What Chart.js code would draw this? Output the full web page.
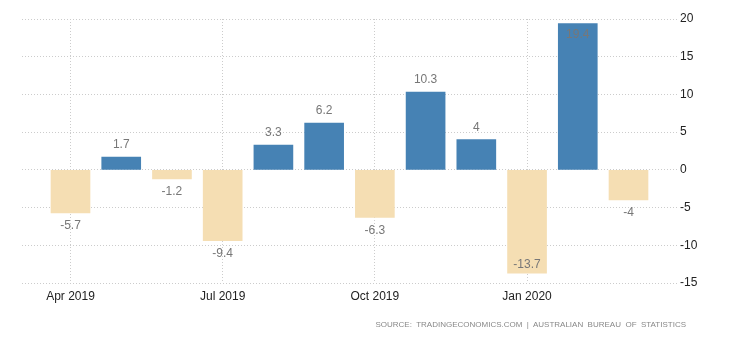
<!DOCTYPE html>
<html>
<head>
<meta charset="utf-8">
<script src="https://cdn.jsdelivr.net/npm/chart.js@4"></script>
<style>
body{margin:0;background:#fff;}
#wrap{position:relative;width:730px;height:340px;}
#source{position:absolute;right:44px;top:320px;font:8px 'Liberation Sans',sans-serif;color:#888;white-space:pre;}
</style>
</head>
<body>
<div id="wrap">
<canvas id="myChart" width="730" height="340"></canvas>
<div id="source">SOURCE:  TRADINGECONOMICS.COM  |  AUSTRALIAN  BUREAU  OF  STATISTICS</div>
</div>
<script>
var months = ['Apr 2019','May 2019','Jun 2019','Jul 2019','Aug 2019','Sep 2019','Oct 2019','Nov 2019','Dec 2019','Jan 2020','Feb 2020','Mar 2020'];
var values = [-5.7, 1.7, -1.2, -9.4, 3.3, 6.2, -6.3, 10.3, 4, -13.7, 19.4, -4];
var tickLabels = ['Apr 2019','Jul 2019','Oct 2019','Jan 2020'];
var yMin = -15, yMax = 20, yStep = 5;

var points = values.map(function(v, i){ return {x: i, y: v}; });
var tickIdx = tickLabels.map(function(t){ return months.indexOf(t); });

// value labels above / below bars
var valueLabels = {
    id: 'valueLabels',
    afterDatasetsDraw: function(chart){
        var c = chart.ctx;
        var area = chart.chartArea;
        var meta = chart.getDatasetMeta(0);
        c.save();
        c.font = '12px "Liberation Sans", sans-serif';
        c.fillStyle = '#777';
        c.textAlign = 'center';
        c.textBaseline = 'middle';
        meta.data.forEach(function(bar, i){
            var v = values[i];
            var y;
            if(v >= 0){
                y = bar.y - 12;
                if(y < area.top + 6) y = bar.y + 11;
            }else{
                y = bar.y + 13;
                if(y > area.bottom - 6) y = bar.y - 9;
            }
            c.fillText(String(v), bar.x, y);
        });
        c.restore();
    }
};

var ctx = document.getElementById('myChart').getContext('2d');
var chart = new Chart(ctx, {
    type: 'bar',
    data: {
        datasets: [{
            data: points,
            backgroundColor: values.map(function(v){ return v >= 0 ? '#4682b4' : '#f5deb3'; }),
            barThickness: 39
        }]
    },
    options: {
        responsive: false,
        animation: false,
        layout: {padding: {left: 22, top: 19, right: 0, bottom: 0}},
        plugins: {legend: {display: false}, tooltip: {enabled: false}},
        scales: {
            x: {
                type: 'linear',
                offset: false,
                min: -0.956,
                max: 11.956,
                afterBuildTicks: function(scale){
                    scale.ticks = tickIdx.map(function(v){ return {value: v}; });
                },
                afterFit: function(scale){ scale.height = 57; },
                ticks: {
                    callback: function(v){ return months[v]; },
                    color: '#222',
                    font: {family: 'Liberation Sans', size: 12},
                    padding: 6,
                    maxRotation: 0,
                    autoSkip: false
                },
                grid: {color: '#ccc', drawTicks: false, offset: false},
                border: {display: false, dash: [1, 2]}
            },
            y: {
                position: 'right',
                min: yMin,
                max: yMax,
                afterFit: function(scale){ scale.width = 53; },
                ticks: {
                    stepSize: yStep,
                    color: '#222',
                    font: {family: 'Liberation Sans', size: 12},
                    padding: 3
                },
                grid: {color: '#ccc', drawTicks: false},
                border: {display: false, dash: [1, 2]}
            }
        }
    },
    plugins: [valueLabels]
});
</script>
</body>
</html>
